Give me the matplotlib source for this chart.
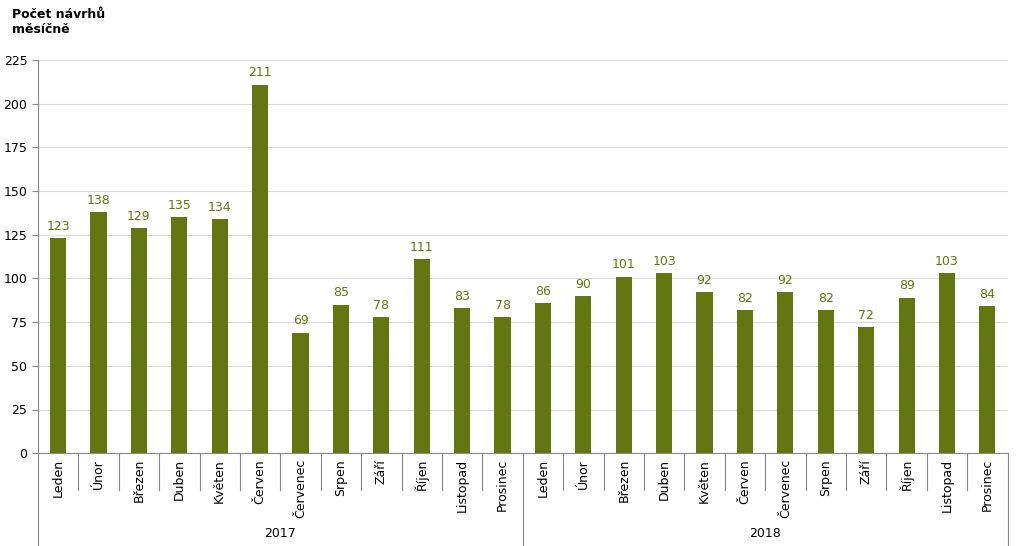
import matplotlib
matplotlib.use("Agg")
import matplotlib.pyplot as plt
from matplotlib.transforms import blended_transform_factory

months = ["Leden", "Únor", "Březen", "Duben", "Květen", "Červen", "Červenec",
          "Srpen", "Září", "Říjen", "Listopad", "Prosinec"]
years = ["2017", "2018"]
values_2017 = [123, 138, 129, 135, 134, 211, 69, 85, 78, 111, 83, 78]
values_2018 = [86, 90, 101, 103, 92, 82, 92, 82, 72, 89, 103, 84]
yticks = [0, 25, 50, 75, 100, 125, 150, 175, 200, 225]

values = values_2017 + values_2018
labels = months + months
color = "#637612"

fig = plt.figure(figsize=(10.24, 5.46), dpi=100)
ax = fig.add_axes([0.037, 0.170, 0.947, 0.720])
x = list(range(len(values)))
ax.bar(x, values, width=0.4, color=color, zorder=3)
for xi, v in zip(x, values):
    ax.text(xi, v + 3, str(v), ha="center", va="bottom", fontsize=9, color=color)
ax.set_xlim(-0.5, len(values) - 0.5)
ax.set_ylim(0, 225)
ax.set_yticks(yticks)
ax.tick_params(axis="y", labelsize=9, length=4, color="#888888")
ax.yaxis.grid(True, color="#d9d9d9", linewidth=0.8, zorder=0)
for s in ["top", "right"]:
    ax.spines[s].set_visible(False)
ax.spines["left"].set_color("#888888")
ax.spines["bottom"].set_color("#888888")
ax.set_xticks([])

tr = blended_transform_factory(ax.transData, ax.transAxes)
for i, lab in enumerate(labels):
    ax.text(i, -0.015, lab, rotation=90, ha="center", va="top", fontsize=9, transform=tr)
for i in range(len(values) + 1):
    b = -0.236 if i in (0, 12, 24) else -0.094
    ax.plot([i - 0.5, i - 0.5], [0, b], transform=tr, color="#888888", lw=0.8, clip_on=False)
for k, y in enumerate(years):
    ax.text(5.5 + 12 * k, -0.204, y, ha="center", va="center", fontsize=9, transform=tr)

fig.text(0.012, 0.985, "Počet návrhů\nměsíčně", ha="left", va="top", fontsize=9, fontweight="bold")
fig.savefig("out.png", dpi=100)
